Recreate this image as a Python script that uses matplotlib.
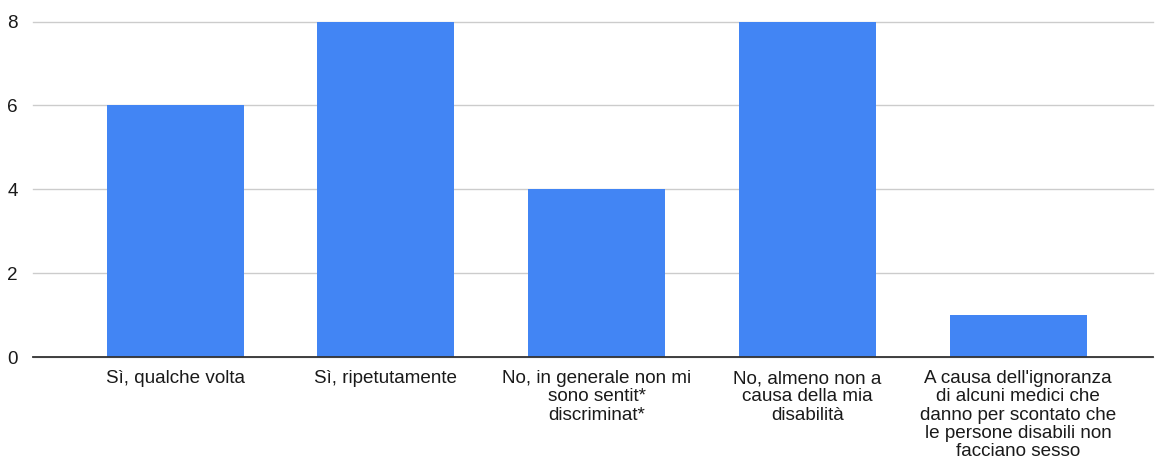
import matplotlib.pyplot as plt
import numpy as np

plt.rcParams['font.family'] = ['Liberation Sans', 'DejaVu Sans']

labels = [
    "Sì, qualche volta",
    "Sì, ripetutamente",
    "No, in generale non mi\nsono sentit*\ndiscriminat*",
    "No, almeno non a\ncausa della mia\ndisabilità",
    "A causa dell'ignoranza\ndi alcuni medici che\ndanno per scontato che\nle persone disabili non\nfacciano sesso",
]
counts = [6, 8, 4, 8, 1]
y_ticks = [0, 2, 4, 6, 8]

BAR_COLOR = "#4285F4"
TEXT_COLOR = "#1a1a1a"

fig = plt.figure(figsize=(11.55, 4.61), dpi=100)
ax = fig.add_axes([33 / 1155, 104 / 461, 1120 / 1155, 335.5 / 461])

x = np.arange(len(labels))
ax.bar(x, counts, width=0.65, color=BAR_COLOR, zorder=3)

ax.set_xlim(-0.675, 4.64)
ax.set_ylim(0, 8)
ax.set_yticks(y_ticks)
ax.set_yticklabels([str(v) for v in y_ticks])
ax.set_xticks(x)
ax.set_xticklabels(labels, linespacing=1.1, va="top")

ax.grid(axis="y", color="#cccccc", linewidth=1, zorder=0)
ax.tick_params(axis="both", length=0, labelsize=13.6, labelcolor=TEXT_COLOR)
ax.tick_params(axis="y", pad=11)
ax.tick_params(axis="x", pad=9.5)

for side in ["top", "right", "left"]:
    ax.spines[side].set_visible(False)
ax.spines["bottom"].set_color("#333333")
ax.spines["bottom"].set_linewidth(1.3)
ax.spines["bottom"].set_zorder(4)

# keep the top gridline fully visible
for line in ax.get_ygridlines():
    line.set_clip_on(False)

fig.savefig("out.png", dpi=100)
